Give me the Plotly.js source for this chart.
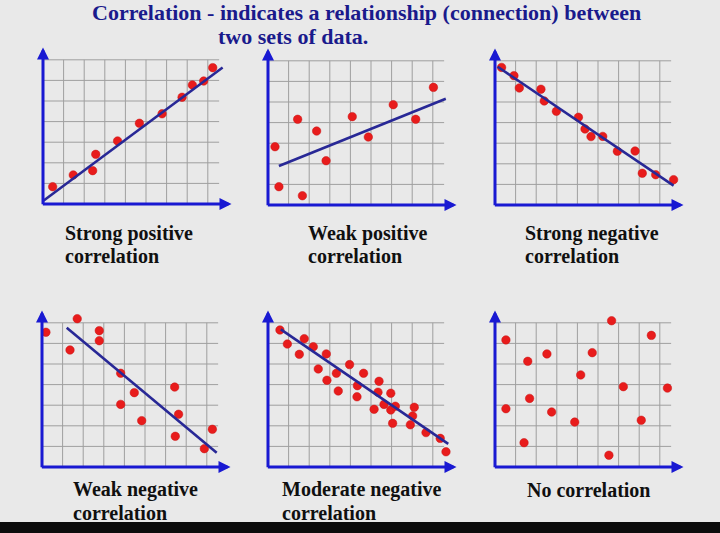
<!DOCTYPE html>
<html><head><meta charset="utf-8">
<script src="https://cdn.plot.ly/plotly-3.0.1.min.js"></script>
<style>html,body{margin:0;padding:0;background:#e9e9e9;}#chart{width:720px;height:533px;}</style>
</head><body><div id="chart"></div>
<script>
// ---- text ----
const titleLine1 = "Correlation - indicates a relationship (connection) between";
const titleLine2 = "two sets of data.";
const labelLine1 = ["Strong positive", "Weak positive", "Strong negative", "Weak negative", "Moderate negative", "No correlation"];
const labelLine2 = ["correlation", "correlation", "correlation", "correlation", "correlation", ""];

// ---- data (grid units) ----
const strongPosX = [0.47, 1.47, 2.41, 2.56, 3.62, 4.68, 5.78, 6.75, 7.25, 7.80, 8.24];
const strongPosY = [0.84, 1.41, 1.62, 2.41, 3.06, 3.92, 4.38, 5.18, 5.78, 5.97, 6.62];
const strongPosLineX = [0.02, 8.72];
const strongPosLineY = [0.16, 6.63];

const weakPosX = [0.34, 0.53, 1.44, 1.67, 2.36, 2.82, 4.09, 4.87, 6.08, 7.17, 8.03];
const weakPosY = [2.83, 0.89, 4.16, 0.45, 3.59, 2.15, 4.29, 3.30, 4.87, 4.16, 5.71];
const weakPosLineX = [0.53, 8.63];
const weakPosLineY = [1.89, 5.16];

const strongNegX = [0.32, 0.92, 1.18, 2.23, 2.39, 2.98, 4.05, 4.37, 4.66, 5.23, 5.94, 6.80, 7.15, 7.80, 8.67];
const strongNegY = [6.68, 6.28, 5.68, 5.62, 5.05, 4.55, 4.26, 3.69, 3.32, 3.33, 2.61, 2.62, 1.54, 1.47, 1.23];
const strongNegLineX = [0.13, 8.67];
const strongNegLineY = [6.71, 0.94];

const weakNegX = [0.19, 1.36, 1.71, 2.78, 2.78, 3.82, 3.82, 4.48, 4.84, 6.44, 6.47, 6.63, 7.88, 8.27];
const weakNegY = [6.54, 5.68, 7.20, 6.62, 6.13, 4.55, 3.04, 3.61, 2.25, 3.88, 1.49, 2.56, 0.89, 1.83];
const weakNegLineX = [1.20, 8.48];
const weakNegLineY = [6.76, 0.69];

const modNegX = [0.58, 0.94, 1.52, 1.76, 2.20, 2.44, 2.83, 2.86, 3.32, 3.41, 3.96, 4.34, 4.32, 4.64, 5.39, 5.34, 5.15, 5.63, 5.96, 5.96, 6.18, 6.05, 7.10, 7.02, 6.91, 7.67, 8.36, 8.64];
const modNegY = [6.65, 5.97, 5.47, 6.23, 5.84, 4.76, 5.49, 4.21, 4.55, 3.69, 4.97, 3.95, 3.41, 4.55, 4.16, 3.63, 2.80, 3.04, 3.58, 2.77, 2.95, 2.12, 2.90, 2.48, 2.05, 1.67, 1.39, 0.74];
const modNegLineX = [0.62, 8.75];
const modNegLineY = [6.68, 1.12];

const noCorrX = [0.53, 1.59, 2.52, 4.72, 5.66, 7.59, 4.16, 6.23, 8.37, 1.68, 0.53, 2.75, 3.87, 7.10, 1.41, 5.53];
const noCorrY = [6.17, 5.13, 5.49, 5.55, 7.10, 6.39, 4.47, 3.90, 3.83, 3.33, 2.83, 2.67, 2.18, 2.27, 1.18, 0.57];

const panels = [
  {x: strongPosX, y: strongPosY, lx: strongPosLineX, ly: strongPosLineY},
  {x: weakPosX, y: weakPosY, lx: weakPosLineX, ly: weakPosLineY},
  {x: strongNegX, y: strongNegY, lx: strongNegLineX, ly: strongNegLineY},
  {x: weakNegX, y: weakNegY, lx: weakNegLineX, ly: weakNegLineY},
  {x: modNegX, y: modNegY, lx: modNegLineX, ly: modNegLineY},
  {x: noCorrX, y: noCorrY, lx: null, ly: null}
];

// ---- layout geometry (pixels) ----
const W = 720, H = 533, U = 20.6;
const origins = [[43, 204], [268, 205], [495, 205], [42, 467], [268, 467], [495, 467]];
const labelLeft = [63, 306, 523, 71, 280, 525];
const XR = [-0.6, 9.6], YR = [-0.6, 8.0];
const gridXMax = 8.55, gridYMax = 7, nV = 8, nH = 7;
const xTip = 9.15, yTip = 7.6;

const axisBlue = 'rgb(25,25,210)';
const lineBlue = 'rgb(40,40,150)';
const dotRed = 'rgb(232,28,28)';
const gridGray = '#9f9f9f';
const serif = 'Liberation Serif, Times New Roman, serif';

const traces = [];
const layout = {
  width: W, height: H,
  margin: {l: 0, r: 0, t: 0, b: 0},
  paper_bgcolor: '#e9e9e9', plot_bgcolor: 'rgba(0,0,0,0)',
  showlegend: false,
  shapes: [], annotations: []
};

panels.forEach((p, i) => {
  const n = i + 1;
  const xa = n === 1 ? 'x' : 'x' + n, ya = n === 1 ? 'y' : 'y' + n;
  const [ox, oy] = origins[i];
  layout[n === 1 ? 'xaxis' : 'xaxis' + n] = {
    domain: [(ox + XR[0] * U) / W, (ox + XR[1] * U) / W], range: XR,
    visible: false, fixedrange: true, anchor: ya
  };
  layout[n === 1 ? 'yaxis' : 'yaxis' + n] = {
    domain: [1 - (oy - YR[0] * U) / H, 1 - (oy - YR[1] * U) / H], range: YR,
    visible: false, fixedrange: true, anchor: xa
  };
  // grid
  for (let k = 1; k <= nV; k++) {
    layout.shapes.push({type: 'line', xref: xa, yref: ya, x0: k, x1: k, y0: 0, y1: gridYMax,
      line: {color: gridGray, width: 1}, layer: 'below'});
  }
  for (let k = 1; k <= nH; k++) {
    layout.shapes.push({type: 'line', xref: xa, yref: ya, x0: 0, x1: gridXMax, y0: k, y1: k,
      line: {color: gridGray, width: 1}, layer: 'below'});
  }
  // axes with arrows
  layout.annotations.push({xref: xa, yref: ya, axref: xa, ayref: ya, x: xTip, y: 0, ax: -0.08, ay: 0,
    text: '', showarrow: true, arrowhead: 2, arrowsize: 0.8, arrowwidth: 3, arrowcolor: axisBlue, standoff: 0});
  layout.annotations.push({xref: xa, yref: ya, axref: xa, ayref: ya, x: 0, y: yTip, ax: 0, ay: -0.08,
    text: '', showarrow: true, arrowhead: 2, arrowsize: 0.8, arrowwidth: 3, arrowcolor: axisBlue, standoff: 0});
  // points
  traces.push({type: 'scatter', mode: 'markers', x: p.x, y: p.y, xaxis: xa, yaxis: ya,
    cliponaxis: false, hoverinfo: 'skip',
    marker: {color: dotRed, size: 8.5, line: {color: 'rgb(200,20,20)', width: 0.5}}});
  if (p.lx) {
    traces.push({type: 'scatter', mode: 'lines', x: p.lx, y: p.ly, xaxis: xa, yaxis: ya,
      cliponaxis: false, hoverinfo: 'skip', line: {color: lineBlue, width: 2.6}});
  }
  // labels
  const baseY = i < 3 ? 233 : 490;
  layout.annotations.push({xref: 'paper', yref: 'paper', x: labelLeft[i] / W, y: 1 - baseY / H,
    xanchor: 'left', yanchor: 'middle', showarrow: false, text: '<b>' + labelLine1[i] + '</b>',
    font: {family: serif, size: 20, color: '#101010'}});
  if (labelLine2[i]) {
    layout.annotations.push({xref: 'paper', yref: 'paper', x: labelLeft[i] / W, y: 1 - (baseY + 23) / H,
      xanchor: 'left', yanchor: 'middle', showarrow: false, text: '<b>' + labelLine2[i] + '</b>',
      font: {family: serif, size: 20, color: '#101010'}});
  }
});

// title
layout.annotations.push({xref: 'paper', yref: 'paper', x: 366 / W, y: 1 - 12.5 / H, xanchor: 'center', yanchor: 'middle',
  showarrow: false, text: '<b>' + titleLine1 + '</b>', font: {family: serif, size: 22, color: 'rgb(26,26,140)'}});
layout.annotations.push({xref: 'paper', yref: 'paper', x: 216 / W, y: 1 - 36.5 / H, xanchor: 'left', yanchor: 'middle',
  showarrow: false, text: '<b>' + titleLine2 + '</b>', font: {family: serif, size: 22, color: 'rgb(26,26,140)'}});

// bottom black band
layout.shapes.push({type: 'rect', xref: 'paper', yref: 'paper', x0: 0, x1: 1, y0: 0, y1: 1 - 522 / H,
  fillcolor: '#0c0c0c', line: {width: 0}, layer: 'above'});

Plotly.newPlot('chart', traces, layout, {displayModeBar: false, staticPlot: true});
</script></body></html>
